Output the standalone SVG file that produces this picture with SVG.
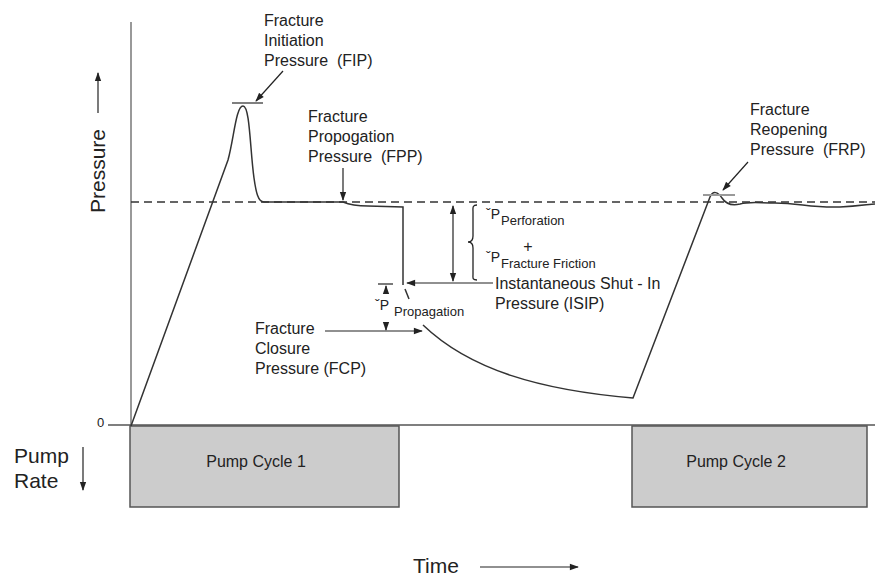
<svg xmlns="http://www.w3.org/2000/svg" width="875" height="576" viewBox="0 0 875 576">
<defs>
<marker id="ah" viewBox="0 0 10 10" refX="9" refY="5" markerWidth="10" markerHeight="9" orient="auto-start-reverse" markerUnits="userSpaceOnUse">
<path d="M0,1.5 L10,5 L0,8.5 Z" fill="#222"/>
</marker>
<style>
text{font-family:"Liberation Sans",Arial,sans-serif;fill:#222}
.lbl{font-size:16px}
.big{font-size:21px}
.sub{font-size:13px}
.dp{font-size:14px}
.ln{fill:none;stroke:#333;stroke-width:1.5}
.arr{fill:none;stroke:#222;stroke-width:1.2;marker-end:url(#ah)}
.box{fill:#cccccc;stroke:#555;stroke-width:1.5}
</style>
</defs>
<rect width="875" height="576" fill="#fff"/>

<g id="axes">
<line x1="131" y1="22" x2="131" y2="426" stroke="#999" stroke-width="2"/>
<line x1="108" y1="425" x2="875" y2="425" stroke="#555" stroke-width="1.5"/>
<line x1="131" y1="202" x2="875" y2="202" stroke="#333" stroke-width="1.3" stroke-dasharray="8,5"/>
<text x="97" y="427" style="font-size:13px">0</text>
</g>

<g id="pressure-label">
<text class="big" transform="translate(105,213) rotate(-90)">Pressure</text>
<line class="arr" x1="98" y1="113" x2="98" y2="73"/>
</g>

<g id="pump-rate-label">
<text class="big" x="14" y="463">Pump</text>
<text class="big" x="14" y="488">Rate</text>
<line class="arr" x1="83" y1="447" x2="83" y2="490"/>
</g>

<g id="time-label">
<text class="big" x="413" y="573">Time</text>
<line class="arr" x1="480" y1="567" x2="578" y2="567"/>
</g>

<g id="pump-cycle-1">
<rect class="box" x="130" y="426" width="269" height="81"/>
<text class="lbl" x="256" y="467" text-anchor="middle">Pump Cycle 1</text>
</g>

<g id="pump-cycle-2">
<rect class="box" x="632" y="426" width="235" height="81"/>
<text class="lbl" x="736" y="467" text-anchor="middle">Pump Cycle 2</text>
</g>

<g id="pressure-curve">
<path class="ln" d="M131,426 L228,160 C234,138 236,106 243,106 C250,106 250,150 254,178 C256,192 258,202 264,202 L343,202 C350,205 356,206 368,206 L403,207 L403,285"/>
<path class="ln" d="M405,289 L409,299"/>
<path class="ln" d="M423,325 C470,370 540,390 633,398 L710,197 C713,190 718,192 722,198 C726,204 732,206 740,204 C750,201 760,203 775,203 C800,203 810,208 840,207 C860,206 870,204 875,204"/>
</g>

<g id="fip">
<text class="lbl" x="264" y="26">Fracture</text>
<text class="lbl" x="264" y="46">Initiation</text>
<text class="lbl" x="264" y="66" xml:space="preserve">Pressure  (FIP)</text>
<line x1="232" y1="103" x2="263" y2="103" stroke="#555" stroke-width="1.5"/>
</g>

<g id="fpp">
<text class="lbl" x="308" y="122">Fracture</text>
<text class="lbl" x="308" y="142">Propogation</text>
<text class="lbl" x="308" y="162" xml:space="preserve">Pressure  (FPP)</text>
</g>

<g id="frp">
<text class="lbl" x="750" y="115">Fracture</text>
<text class="lbl" x="750" y="135">Reopening</text>
<text class="lbl" x="750" y="155" xml:space="preserve">Pressure  (FRP)</text>
<line x1="703" y1="195" x2="735" y2="195" stroke="#999" stroke-width="2"/>
</g>

<g id="dp-perforation">
<text x="486" y="219"><tspan class="dp">ˇP</tspan><tspan class="sub" dx="1" dy="6">Perforation</tspan></text>
<text x="528" y="252" text-anchor="middle" style="font-size:16px">+</text>
<text x="486" y="262"><tspan class="dp">ˇP</tspan><tspan class="sub" dx="1" dy="6">Fracture Friction</tspan></text>
<path d="M477,205 C472,205 473,208 473,212 L473,236 C473,240 471,242 468,242 C471,242 473,244 473,248 L473,274 C473,278 472,280 477,280" fill="none" stroke="#222" stroke-width="1.3"/>
</g>

<g id="isip">
<text class="lbl" x="495" y="289">Instantaneous Shut - In</text>
<text class="lbl" x="495" y="309">Pressure (ISIP)</text>
</g>

<g id="dp-propagation">
<line x1="378" y1="284" x2="393" y2="284" stroke="#222" stroke-width="1.2"/>
<text x="375" y="310"><tspan class="dp">ˇP</tspan><tspan class="sub" dx="5" dy="6">Propagation</tspan></text>
</g>

<g id="fcp">
<text class="lbl" x="255" y="334">Fracture</text>
<text class="lbl" x="255" y="354">Closure</text>
<text class="lbl" x="255" y="374">Pressure (FCP)</text>
</g>

<g id="connectors">
<line class="arr" x1="283" y1="71" x2="256" y2="101"/>
<line class="arr" x1="343" y1="168" x2="343" y2="200"/>
<line class="arr" x1="748" y1="162" x2="723" y2="190"/>
<line class="arr" x1="493" y1="283" x2="407" y2="283"/>
<line class="arr" x1="453" y1="244" x2="453" y2="206"/>
<line class="arr" x1="453" y1="244" x2="453" y2="281"/>
<line class="arr" x1="386" y1="294" x2="386" y2="286"/>
<line class="arr" x1="386" y1="323" x2="386" y2="330"/>
<line class="arr" x1="325" y1="331" x2="422" y2="331"/>
</g>
</svg>
